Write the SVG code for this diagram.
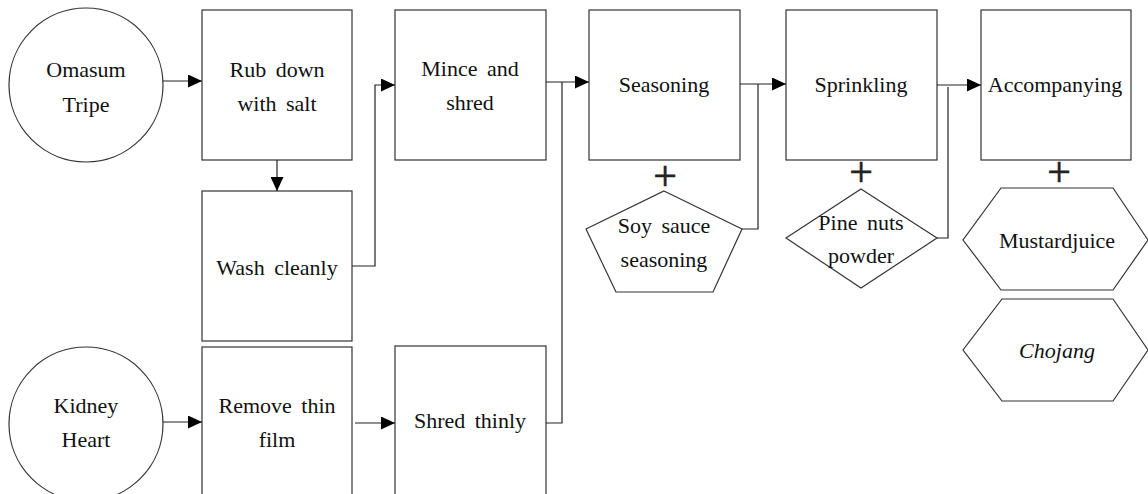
<svg xmlns="http://www.w3.org/2000/svg" width="1148" height="494" viewBox="0 0 1148 494">
  <style>
    .shape { fill: #fff; stroke: #333; stroke-width: 1.2; }
    .lbl { font-size: 22px; fill: #111; word-spacing: 4px; }
    .plus { font-size: 42px; fill: #222; stroke: #222; stroke-width: 0.6; }
    .wire { fill: none; stroke: #222; stroke-width: 1.2; }
  </style>
  <defs>
    <marker id="ah" markerWidth="14" markerHeight="13" refX="14" refY="6.5" orient="auto" markerUnits="userSpaceOnUse">
      <path d="M0,0 L14,6.5 L0,13 z" fill="#000"/>
    </marker>
  </defs>
  <rect width="1148" height="494" fill="#fff"/>

  <!-- raw materials -->
  <g id="omasum">
    <circle class="shape" cx="86" cy="85" r="77"/>
    <text class="lbl" x="86" y="77" text-anchor="middle" font-family="Liberation Serif">Omasum</text>
    <text class="lbl" x="86" y="112" text-anchor="middle" font-family="Liberation Serif">Tripe</text>
  </g>
  <g id="kidney">
    <circle class="shape" cx="86" cy="424" r="77"/>
    <text class="lbl" x="86" y="413" text-anchor="middle" font-family="Liberation Serif">Kidney</text>
    <text class="lbl" x="86" y="447" text-anchor="middle" font-family="Liberation Serif">Heart</text>
  </g>

  <!-- process steps -->
  <g id="rub">
    <rect class="shape" x="202" y="10" width="150" height="150"/>
    <text class="lbl" x="277" y="77" text-anchor="middle" font-family="Liberation Serif">Rub down</text>
    <text class="lbl" x="277" y="111" text-anchor="middle" font-family="Liberation Serif">with salt</text>
  </g>
  <g id="wash">
    <rect class="shape" x="202" y="191" width="150" height="150"/>
    <text class="lbl" x="277" y="275" text-anchor="middle" font-family="Liberation Serif">Wash cleanly</text>
  </g>
  <g id="remove">
    <rect class="shape" x="202" y="347" width="150" height="150"/>
    <text class="lbl" x="277" y="413" text-anchor="middle" font-family="Liberation Serif">Remove thin</text>
    <text class="lbl" x="277" y="447" text-anchor="middle" font-family="Liberation Serif">film</text>
  </g>
  <g id="mince">
    <rect class="shape" x="395" y="10" width="151" height="150"/>
    <text class="lbl" x="470" y="76" text-anchor="middle" font-family="Liberation Serif">Mince and</text>
    <text class="lbl" x="470" y="110" text-anchor="middle" font-family="Liberation Serif">shred</text>
  </g>
  <g id="shred">
    <rect class="shape" x="395" y="346" width="151" height="150"/>
    <text class="lbl" x="470" y="428" text-anchor="middle" font-family="Liberation Serif">Shred thinly</text>
  </g>
  <g id="seasoning">
    <rect class="shape" x="589" y="10" width="151" height="150"/>
    <text class="lbl" x="664" y="92" text-anchor="middle" font-family="Liberation Serif">Seasoning</text>
  </g>
  <g id="sprinkling">
    <rect class="shape" x="786" y="10" width="151" height="150"/>
    <text class="lbl" x="861" y="92" text-anchor="middle" font-family="Liberation Serif">Sprinkling</text>
  </g>
  <g id="accompanying">
    <rect class="shape" x="981" y="10" width="150" height="150"/>
    <text class="lbl" x="1055" y="92" text-anchor="middle" font-family="Liberation Serif">Accompanying</text>
  </g>

  <!-- additions -->
  <g id="plus-seasoning"><text class="plus" x="665" y="190" text-anchor="middle" font-family="Liberation Serif">+</text></g>
  <g id="plus-sprinkling"><text class="plus" x="861" y="186" text-anchor="middle" font-family="Liberation Serif">+</text></g>
  <g id="plus-accompanying"><text class="plus" x="1059" y="186" text-anchor="middle" font-family="Liberation Serif">+</text></g>

  <g id="soy">
    <polygon class="shape" points="664,191 742,229 713,292 616,292 586,229"/>
    <text class="lbl" x="664" y="233" text-anchor="middle" font-family="Liberation Serif">Soy sauce</text>
    <text class="lbl" x="664" y="267" text-anchor="middle" font-family="Liberation Serif">seasoning</text>
  </g>
  <g id="pine">
    <polygon class="shape" points="861,189 937,238 861,288 786,238"/>
    <text class="lbl" x="861" y="230" text-anchor="middle" font-family="Liberation Serif">Pine nuts</text>
    <text class="lbl" x="861" y="263" text-anchor="middle" font-family="Liberation Serif">powder</text>
  </g>
  <g id="mustard">
    <polygon class="shape" points="1001,188 1113,188 1148,240 1113,290 1001,290 963,240"/>
    <text class="lbl" x="1057" y="248" text-anchor="middle" font-family="Liberation Serif">Mustardjuice</text>
  </g>
  <g id="chojang">
    <polygon class="shape" points="1002,299 1113,299 1148,350 1113,401 1002,401 963,350"/>
    <text class="lbl" x="1057" y="358" text-anchor="middle" font-family="Liberation Serif" font-style="italic">Chojang</text>
  </g>

  <!-- connectors -->
  <g id="connectors">
    <path class="wire" d="M163,81 H202" marker-end="url(#ah)"/>
    <path class="wire" d="M277,160 V191" marker-end="url(#ah)"/>
    <path class="wire" d="M352,266 H375 V85 H395" marker-end="url(#ah)"/>
    <path class="wire" d="M163,422 H202" marker-end="url(#ah)"/>
    <path class="wire" d="M355,423 H395" marker-end="url(#ah)"/>
    <path class="wire" d="M546,82 H589" marker-end="url(#ah)"/>
    <path class="wire" d="M546,423 H562 V82"/>
    <path class="wire" d="M740,84 H786" marker-end="url(#ah)"/>
    <path class="wire" d="M742,229 H758 V84"/>
    <path class="wire" d="M937,85 H981" marker-end="url(#ah)"/>
    <path class="wire" d="M937,238 H948 V87"/>
  </g>
</svg>
